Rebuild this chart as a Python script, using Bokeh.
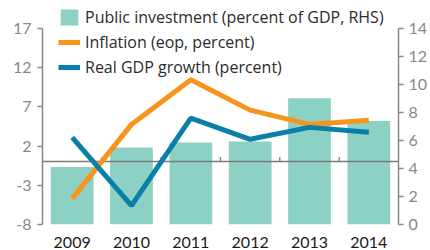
from bokeh.plotting import figure
from bokeh.models import (Range1d, LinearAxis, FixedTicker, Legend, LegendItem,
                          ColumnDataSource)
from bokeh.transform import dodge
from bokeh.embed import file_html
from bokeh.resources import INLINE

years = ["2009", "2010", "2011", "2012", "2013", "2014"]
public_investment = [4.1, 5.5, 5.85, 5.92, 9.02, 7.39]
inflation = [-4.7, 4.76, 10.45, 6.58, 4.76, 5.3]
gdp_growth = [3.1, -5.6, 5.55, 2.86, 4.38, 3.75]
left_ticks = [-8, -3, 2, 7, 12, 17]
right_ticks = [0, 2, 4, 6, 8, 10, 12, 14]

FONT = "Lato"
LEG_FONT = "Open Sans"
BAR = "#8dd1c5"
ORANGE = "#f7941d"
BLUE = "#0a7fa8"
GREY = "#888888"

# layout: axis span of 197px, with 26px of headroom above it for the legend
AXIS_PX = 197
HEAD_PX = 26
left_lo, left_hi = left_ticks[0], left_ticks[-1]
right_lo, right_hi = right_ticks[0], right_ticks[-1]
left_top = left_hi + (left_hi - left_lo) * HEAD_PX / AXIS_PX
right_top = right_hi + (right_hi - right_lo) * HEAD_PX / AXIS_PX

src = ColumnDataSource(dict(year=years, inv=public_investment,
                            inf=inflation, gdp=gdp_growth))
bnd = ColumnDataSource(dict(year=years[:-1], y0=[0] * 5, y1=[0.6] * 5))

p = figure(x_range=years, y_range=Range1d(left_lo, left_top), width=430,
           height=250, output_backend="svg", toolbar_location=None,
           min_border_left=42, min_border_right=31, min_border_top=2,
           min_border_bottom=25)
p.outline_line_color = None
p.grid.grid_line_color = None
p.background_fill_color = "white"
p.x_range.range_padding = 0
p.extra_y_ranges = {"right": Range1d(right_lo, right_top)}

bars = p.vbar(x="year", top="inv", bottom=0, width=0.72, source=src,
              y_range_name="right", fill_color=BAR, line_color=None)
p.hspan(y=[0], line_color="#7a7a7a", line_width=1.5)
p.segment(x0=dodge("year", 0.5, range=p.x_range), y0="y0",
          x1=dodge("year", 0.5, range=p.x_range), y1="y1", source=bnd,
          line_color="#7a7a7a", line_width=1.2)
l_inf = p.line(x="year", y="inf", source=src, line_color=ORANGE, line_width=5)
l_gdp = p.line(x="year", y="gdp", source=src, line_color=BLUE, line_width=5)

# x axis
xa = p.xaxis[0]
xa.axis_line_color = None
xa.major_tick_line_color = None
xa.minor_tick_line_color = None
xa.major_label_text_font = FONT
xa.major_label_text_font_size = "16px"
xa.major_label_text_color = "#1a1a1a"
xa.major_label_standoff = 6

# left axis
ya = p.yaxis[0]
ya.ticker = FixedTicker(ticks=left_ticks)
ya.bounds = (left_lo, left_hi)
ya.major_label_overrides = {t: str(t) for t in left_ticks}
ya.axis_line_color = GREY
ya.axis_line_width = 1.5
ya.major_tick_line_color = GREY
ya.major_tick_line_width = 1.5
ya.major_tick_in = 0
ya.major_tick_out = 5
ya.minor_tick_line_color = None
ya.major_label_text_font = FONT
ya.major_label_text_font_size = "16px"
ya.major_label_text_color = GREY
ya.major_label_standoff = 6

ra = LinearAxis(y_range_name="right", ticker=FixedTicker(ticks=right_ticks),
                bounds=(right_lo, right_hi))
ra.axis_line_color = GREY
ra.axis_line_width = 1.5
ra.major_tick_line_color = GREY
ra.major_tick_line_width = 1.5
ra.major_tick_in = 0
ra.major_tick_out = 5
ra.minor_tick_line_color = None
ra.major_label_text_font = FONT
ra.major_label_text_font_size = "16px"
ra.major_label_text_color = GREY
ra.major_label_standoff = 5
p.add_layout(ra, "right")

legend = Legend(items=[
    LegendItem(label="Public investment (percent of GDP, RHS)", renderers=[bars]),
    LegendItem(label="Inflation (eop, percent)", renderers=[l_inf]),
    LegendItem(label="Real GDP growth (percent)", renderers=[l_gdp]),
], location=(16, 146))
legend.label_text_font = LEG_FONT
legend.label_text_font_size = "16px"
legend.label_text_color = "#2b2b2b"
legend.glyph_width = 22
legend.glyph_height = 20
legend.label_height = 20
legend.spacing = 3
legend.padding = 0
legend.margin = 0
legend.label_standoff = 5
legend.border_line_color = None
legend.background_fill_alpha = 0
p.add_layout(legend, "center")

open("out.html", "w").write(file_html(p, INLINE))
